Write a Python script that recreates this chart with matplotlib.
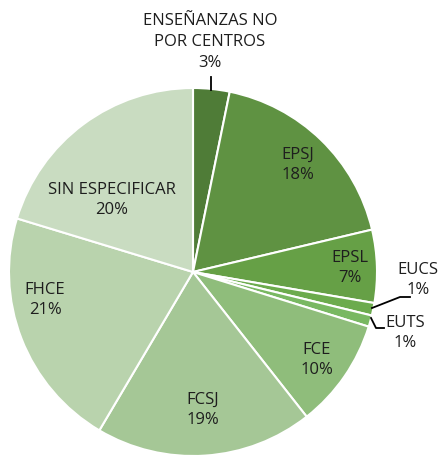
import numpy as np
import matplotlib
matplotlib.use("Agg")
import matplotlib.pyplot as plt

plt.rcParams['font.family'] = ['Open Sans', 'DejaVu Sans']

centros = ["ENSEÑANZAS NO\nPOR CENTROS", "EPSJ", "EPSL", "EUCS", "EUTS",
           "FCE", "FCSJ", "FHCE", "SIN ESPECIFICAR"]
valores = [3.2, 18.1, 6.4, 1.1, 1.0, 9.6, 19.1, 21.2, 20.3]
porcentajes = ["3%", "18%", "7%", "1%", "1%", "10%", "19%", "21%", "20%"]
colores = ["#4f7c37", "#5f9242", "#66a046", "#6cab4d", "#79b862",
           "#8fbd7b", "#a5c796", "#b9d3ad", "#c9dcc1"]

W, H = 447, 455
cx, cy, r = 193, 272, 184

fig = plt.figure(figsize=(W / 100, H / 100), dpi=100)
ax = fig.add_axes([(cx - r) / W, (H - cy - r) / H, 2 * r / W, 2 * r / H])

ax.pie(valores, colors=colores, startangle=90, counterclock=False,
       wedgeprops=dict(edgecolor="white", linewidth=1.5))
ax.set_xlim(-1, 1)
ax.set_ylim(-1, 1)
ax.axis("off")


def px(x, y):
    # pixel position in the picture -> data units of the pie
    return (x - cx) / r, (cy - y) / r


# label anchors (pixels, centre of text block)
pos_etiquetas = [(210, 42), (298, 165), (350, 268), (418, 280), (405, 333),
                 (317, 360), (203, 410), (45, 300), (112, 200)]

for nombre, pct, (x, y) in zip(centros, porcentajes, pos_etiquetas):
    ax.text(*px(x, y), nombre + "\n" + pct, ha="center", va="center",
            fontsize=12, color="#1e1e1e", linespacing=1.4, clip_on=False)

# leader lines
lineas = [
    [(211, 77), (211, 90)],
    [(372, 308), (400, 297), (410, 297)],
    [(371, 318), (376, 328), (384, 328)],
]
for pts in lineas:
    xs, ys = zip(*[px(x, y) for x, y in pts])
    ax.plot(xs, ys, color="black", linewidth=1.3, clip_on=False)

fig.savefig("out.png", dpi=100)
